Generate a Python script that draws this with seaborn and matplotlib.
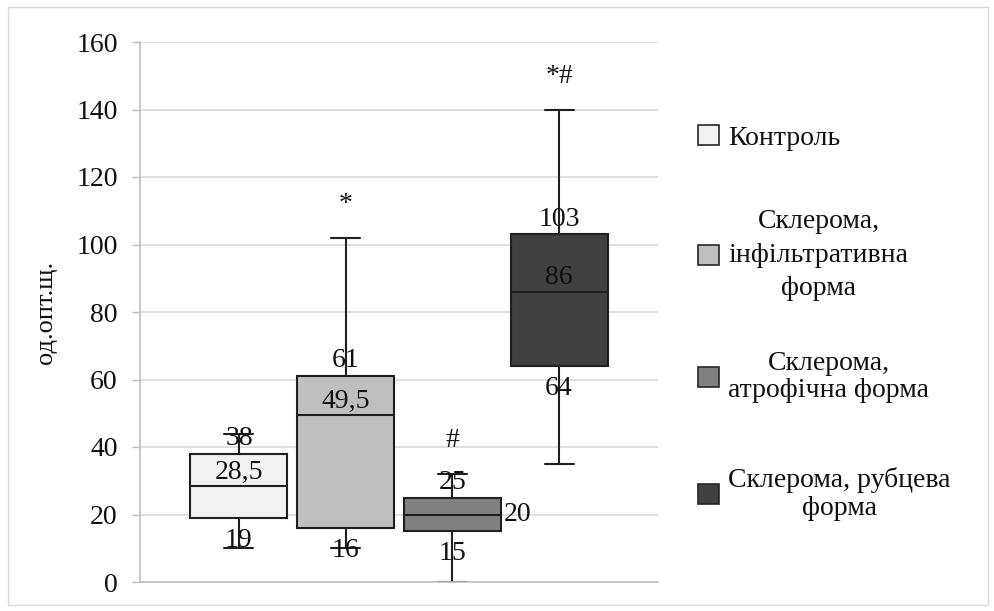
import matplotlib
matplotlib.use('Agg')
from matplotlib import pyplot as plt
from matplotlib.patches import Patch, Rectangle
import seaborn as sns
import pandas as pd

####### DATA #######
groups = ['Контроль', 'Склерома, інфільтративна форма',
          'Склерома, атрофічна форма', 'Склерома, рубцева форма']
legend_labels = ['Контроль', 'Склерома,\nінфільтративна\nформа',
                 'Склерома,\nатрофічна форма', 'Склерома, рубцева\nформа']
# five-number summaries: min, q1, median, q3, max
mins = [10, 10, 0, 35]
q1s = [19, 16, 15, 64]
medians = [28.5, 49.5, 20, 86]
q3s = [38, 61, 25, 103]
maxs = [44, 102, 32, 140]
signif = ['', '*', '#', '*#']

colors = ['#f2f2f2', '#bfbfbf', '#808080', '#404040']
##### END DATA #####

sns.set_style('white')
plt.rcParams['font.family'] = ['Liberation Serif', 'DejaVu Serif']
TXT = '#111111'
FS = 20

rows = []
for g, a, b, c, d, e in zip(groups, mins, q1s, medians, q3s, maxs):
    for v in (a, b, c, d, e):
        rows.append({'cat': '', 'group': g, 'value': v})
df = pd.DataFrame(rows)

fig = plt.figure(figsize=(9.95, 6.11), dpi=100)
ax = fig.add_axes([140 / 995, 29 / 611, 518 / 995, 540 / 611])

sns.boxplot(data=df, x='cat', y='value', hue='group', hue_order=groups,
            palette=dict(zip(groups, colors)), whis=(0, 100), width=0.824, gap=0.09,
            linecolor='#1f1f1f', linewidth=1.5, showfliers=False, legend=False,
            capwidths=0.056, ax=ax)

ax.set_xlim(-0.5, 0.5)
ax.set_ylim(0, 160)
ax.set_yticks(range(0, 161, 20))
ax.set_xticks([])
ax.set_xlabel('')
ax.set_ylabel('од.опт.щ.', fontsize=19, color=TXT, labelpad=14)
ax.tick_params(axis='y', labelsize=FS, labelcolor=TXT, color='#bfbfbf', length=6, width=1, pad=10, left=True)
ax.yaxis.grid(True, color='#d9d9d9', linewidth=1.2)
ax.set_axisbelow(True)
for s in ['top', 'right']:
    ax.spines[s].set_visible(False)
for s in ['left', 'bottom']:
    ax.spines[s].set_color('#bfbfbf')
    ax.spines[s].set_linewidth(1.2)

# box centres from the drawn patches
boxes = sorted([p for p in ax.patches], key=lambda p: p.get_path().get_extents().x0)
ext = [p.get_path().get_extents() for p in boxes]
centers = [(e.x0 + e.x1) / 2 for e in ext]
rights = [e.x1 for e in ext]


def fmt(v):
    return f'{v:g}'.replace('.', ',')


for i in range(len(groups)):
    cx = centers[i]
    ax.annotate(fmt(q3s[i]), (cx, q3s[i]), xytext=(0, 11), textcoords='offset points',
                ha='center', va='center', fontsize=FS, color=TXT)
    if i == 2:
        ax.annotate(fmt(medians[i]), (rights[i], medians[i]), xytext=(2, 0), textcoords='offset points',
                    ha='left', va='center', fontsize=FS, color=TXT)
    else:
        ax.annotate(fmt(medians[i]), (cx, medians[i]), xytext=(0, 10), textcoords='offset points',
                    ha='center', va='center', fontsize=FS, color=TXT)
    ax.annotate(fmt(q1s[i]), (cx, q1s[i]), xytext=(0, -16), textcoords='offset points',
                ha='center', va='center', fontsize=FS, color=TXT)
    if signif[i]:
        ax.annotate(signif[i], (cx, maxs[i]), xytext=(0, 24), textcoords='offset points',
                    ha='center', va='center', fontsize=FS, color=TXT)

# one legend per entry so that each sits at its own height
leg_y = [138, 255, 377, 494]
line_sp = [1.2, 1.45, 1.15, 1.15]
for c, lab, y, ls in zip(colors, legend_labels, leg_y, line_sp):
    h = Patch(facecolor=c, edgecolor='#262626', linewidth=1.2)
    leg = fig.legend([h], [lab], loc='center left', bbox_to_anchor=(684 / 995, (611 - y) / 611),
                     frameon=False, fontsize=FS, handlelength=0.75, handleheight=0.75,
                     handletextpad=0.35, borderpad=0)
    for t in leg.get_texts():
        t.set_multialignment('center')
        t.set_linespacing(ls)
        t.set_color(TXT)

fig.patches.append(Rectangle((8 / 995, 6 / 611), 980 / 995, 598 / 611, transform=fig.transFigure,
                             fill=False, edgecolor='#d9d9d9', linewidth=1))

fig.savefig('out.png', dpi=100)
